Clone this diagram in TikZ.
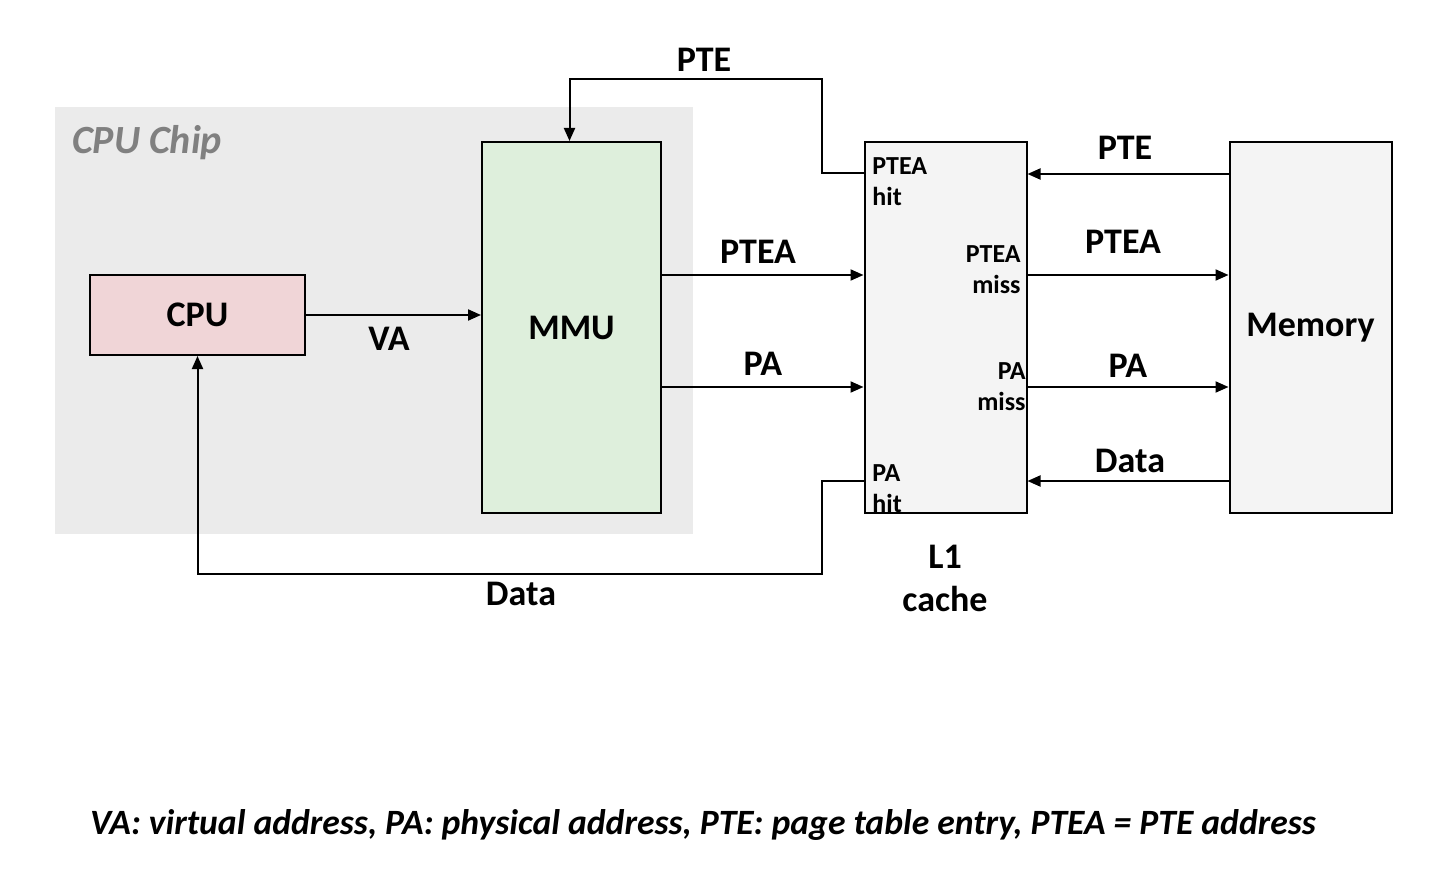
\documentclass[tikz,border=0pt]{standalone}
\usepackage{fontspec}
\setmainfont{Carlito}
\usetikzlibrary{arrows.meta}
\definecolor{chipgray}{RGB}{235,235,235}
\definecolor{cpupink}{RGB}{240,213,215}
\definecolor{mmugreen}{RGB}{222,239,220}
\definecolor{boxgray}{RGB}{244,244,244}
\tikzstyle{unit} = [rectangle, draw=black, line width=1pt, inner sep=0pt, font=\fontsize{18}{20}\selectfont\bfseries]
\tikzstyle{arrow} = [line width=1pt, -{Triangle[length=6.5pt, width=5.5pt]}]
\tikzstyle{lab} = [font=\fontsize{18}{21.5}\selectfont\bfseries, align=center]
\tikzstyle{port} = [font=\fontsize{13}{15.5}\selectfont\bfseries, inner sep=0pt]

\begin{document}
\begin{tikzpicture}[x=0.5pt, y=-0.5pt, node distance=187pt]
		\useasboundingbox (0,0) rectangle (1456,872);
		% chip background
		\fill [chipgray] (55,107) rectangle (693,534);
		\node (chip) [lab, font=\fontsize{20}{24}\selectfont\bfseries\itshape, text=gray] at (147,143) {CPU Chip};
		% units
		\node (cpu) [unit, fill=cpupink, minimum width=107.5pt, minimum height=40pt] at (197.5,315) {CPU};
		\node (mmu) [unit, fill=mmugreen, minimum width=89.5pt, minimum height=185.5pt, right of=cpu, yshift=-6.25pt] {MMU};
		\node (l1) [unit, fill=boxgray, minimum width=81pt, minimum height=185.5pt, right of=mmu] {};
		\node (memory) [unit, fill=boxgray, minimum width=81pt, minimum height=185.5pt, right of=l1, xshift=-4.5pt] {Memory};
		\node (l1name) [lab] at (945,578) {L1\\cache};
		% ports of the cache
		\node (pteahit) [port, align=left, anchor=west] at (872,181.5) {PTEA\\hit};
		\node (pteamiss) [port, align=right, anchor=east] at (1021,270) {PTEA\\miss};
		\node (pamiss) [port, align=right, anchor=east] at (1026,387) {PA\\miss};
		\node (pahit) [port, align=left, anchor=west] at (872,489) {PA\\hit};
		% connectors
		\draw [arrow] (cpu.east) -- (cpu.east -| mmu.west);
		\node (va) [lab] at (389,339) {VA};
		\draw [arrow] ([yshift=-16pt]l1.north west) -- ++(-21pt,0) |- ([xshift=-1pt, yshift=31pt]mmu.north) -- ([xshift=-1pt]mmu.north);
		\node (pte1) [lab] at (704,60) {PTE};
		\draw [arrow] ([yshift=26.25pt]mmu.east) -- ([yshift=26.25pt]l1.west);
		\node (ptea1) [lab] at (758,252) {PTEA};
		\draw [arrow] ([yshift=-29.75pt]mmu.east) -- ([yshift=-29.75pt]l1.west);
		\node (pa1) [lab] at (763,364) {PA};
		\draw [arrow] ([yshift=-76.75pt]l1.west) -- ++(-21pt,0) -- ++(0,-46.5pt) -| (cpu.south);
		\node (data1) [lab] at (521,594) {Data};
		\draw [arrow] ([yshift=76.75pt]memory.west) -- ([yshift=76.75pt]l1.east);
		\node (pte2) [lab] at (1125,148) {PTE};
		\draw [arrow] ([yshift=26.25pt]l1.east) -- ([yshift=26.25pt]memory.west);
		\node (ptea2) [lab] at (1123,242) {PTEA};
		\draw [arrow] ([yshift=-29.75pt]l1.east) -- ([yshift=-29.75pt]memory.west);
		\node (pa2) [lab] at (1128,366) {PA};
		\draw [arrow] ([yshift=-76.75pt]memory.west) -- ([yshift=-76.75pt]l1.east);
		\node (data2) [lab] at (1130,461) {Data};
		% legend
		\node (legend) [lab, font=\fontsize{17.8}{21.5}\selectfont\bfseries\itshape] at (703,825) {VA: virtual address, PA: physical address, PTE: page table entry, PTEA = PTE address};
\end{tikzpicture}
\end{document}
